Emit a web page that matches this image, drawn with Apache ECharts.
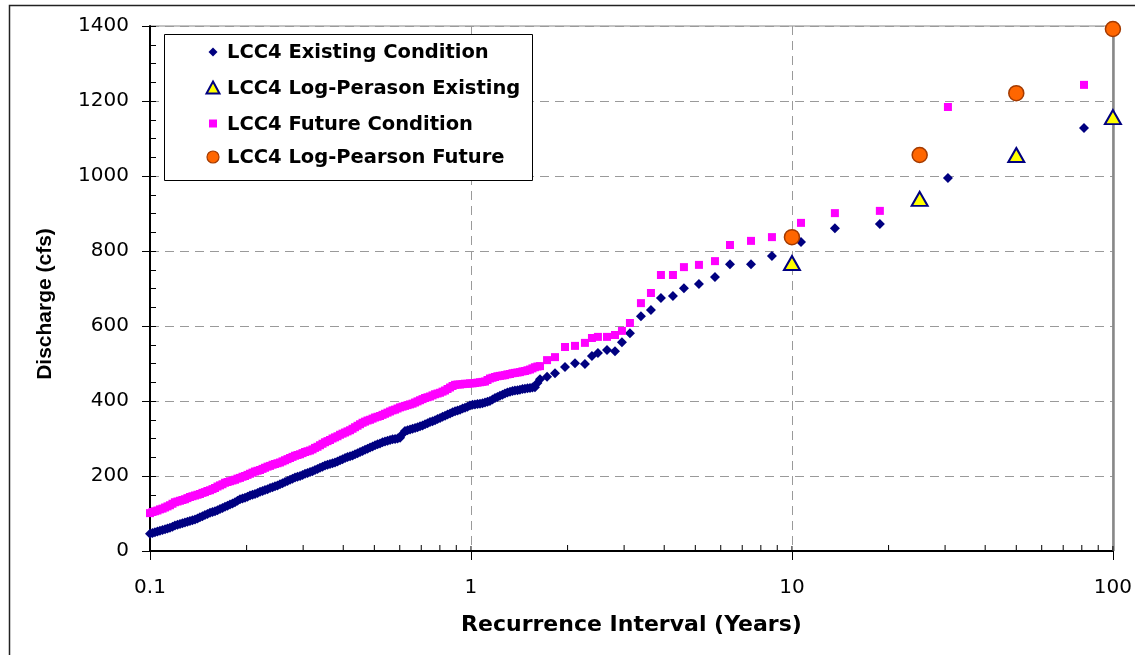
<!DOCTYPE html>
<html>
<head>
<meta charset="utf-8">
<script src="https://cdn.jsdelivr.net/npm/echarts@6/dist/echarts.min.js"></script>
<style>
  html, body { margin: 0; padding: 0; background: #fff; }
  #chart { width: 1135px; height: 655px; }
</style>
</head>
<body>
<div id="chart"></div>
<script>
// Recurrence interval (years) of each ranked event, shared by both conditions
const recurrence = [
  0.1, 0.1018, 0.1036, 0.1055, 0.1074, 0.1094, 0.1114, 0.1134, 0.1154, 0.1175,
  0.1196, 0.1218, 0.1240, 0.1262, 0.1285, 0.1308, 0.1332, 0.1356, 0.1381, 0.1406,
  0.1431, 0.1457, 0.1483, 0.1510, 0.1538, 0.1566, 0.1594, 0.1623, 0.1652, 0.1682,
  0.1713, 0.1744, 0.1775, 0.1807, 0.1840, 0.1873, 0.1907, 0.1942, 0.1977, 0.2013,
  0.2049, 0.2086, 0.2124, 0.2163, 0.2202, 0.2242, 0.2282, 0.2324, 0.2366, 0.2409,
  0.2452, 0.2496, 0.2541, 0.2587, 0.2634, 0.2682, 0.2731, 0.2780, 0.2830, 0.2881,
  0.2934, 0.2987, 0.3041, 0.3096, 0.3152, 0.3209, 0.3267, 0.3326, 0.3386, 0.3447,
  0.3510, 0.3573, 0.3638, 0.3704, 0.3771, 0.3839, 0.3909, 0.3980, 0.4052, 0.4125,
  0.4200, 0.4276, 0.4353, 0.4432, 0.4512, 0.4594, 0.4677, 0.4762, 0.4848, 0.4936,
  0.5025, 0.5116, 0.5208, 0.5302, 0.5398, 0.5496, 0.5596, 0.5697, 0.5800, 0.5905,
  0.6012, 0.6121, 0.6231, 0.6344, 0.6459, 0.6576, 0.6695, 0.6816, 0.6939, 0.7065,
  0.7193, 0.7323, 0.7455, 0.7590, 0.7728, 0.7868, 0.8010, 0.8155, 0.8303, 0.8453,
  0.8606, 0.8762, 0.8920, 0.9082, 0.9246, 0.9413, 0.9579, 0.9752, 0.9928, 1.011,
  1.029, 1.048, 1.067, 1.086, 1.106, 1.126, 1.146, 1.167, 1.188, 1.209,
  1.231, 1.253, 1.276, 1.299, 1.323, 1.347, 1.371, 1.396, 1.421, 1.447,
  1.473, 1.500, 1.527, 1.554, 1.582, 1.611,
  1.641, 1.726, 1.827, 1.963, 2.109, 2.265, 2.382, 2.486, 2.653, 2.810,
  2.954, 3.128, 3.385, 3.637, 3.907, 4.259, 4.608, 5.132, 5.757, 6.411,
  7.455, 8.664, 10.67, 13.61, 18.79, 30.62, 81.28
];

// Discharge (cfs), existing condition
const existingQ = [
  46, 48, 50, 52, 54, 56, 58, 60, 62, 65,
  68, 70, 72, 74, 76, 78, 80, 82, 84, 87,
  90, 93, 96, 99, 102, 104, 106, 109, 112, 115,
  118, 121, 124, 127, 130, 134, 138, 140, 142, 145,
  148, 150, 152, 155, 158, 160, 163, 165, 168, 170,
  173, 175, 178, 181, 184, 187, 190, 193, 196, 198,
  200, 203, 206, 208, 211, 213, 216, 219, 222, 225,
  228, 230, 232, 234, 236, 239, 242, 245, 248, 251,
  253, 255, 258, 261, 264, 267, 270, 273, 276, 279,
  282, 285, 287, 290, 292, 294, 296, 298, 299, 300,
  302, 312, 320, 322, 324, 326, 328, 330, 333, 335,
  338, 341, 344, 346, 349, 352, 355, 358, 361, 364,
  367, 370, 373, 375, 377, 380, 382, 385, 388, 390,
  391, 392, 393, 394, 396, 398, 400, 404, 408, 411,
  414, 417, 420, 423, 425, 427, 428, 429, 430, 432,
  433, 434, 435, 436, 437, 448,
  458, 465, 474, 491, 501, 499, 520, 528, 536, 533,
  557, 581, 626, 643, 675, 680, 701, 712, 731, 765,
  765, 787, 824, 861, 872, 995, 1128
];

// Discharge (cfs), future condition
const futureQ = [
  101, 104, 106, 108, 111, 113, 116, 119, 122, 126,
  130, 132, 134, 136, 138, 141, 144, 146, 148, 150,
  152, 155, 157, 160, 162, 165, 168, 172, 175, 178,
  182, 184, 186, 188, 190, 193, 195, 198, 200, 203,
  206, 209, 212, 214, 216, 219, 222, 225, 227, 230,
  232, 234, 236, 239, 242, 245, 248, 251, 254, 256,
  258, 261, 264, 266, 268, 271, 275, 278, 282, 286,
  290, 293, 296, 300, 303, 306, 310, 313, 316, 319,
  322, 326, 330, 334, 338, 342, 345, 348, 350, 353,
  356, 358, 360, 363, 366, 369, 372, 375, 377, 380,
  383, 385, 387, 389, 391, 393, 396, 399, 402, 405,
  408, 410, 412, 415, 418, 420, 422, 425, 428, 432,
  436, 440, 443, 444, 444, 445, 446, 446, 447, 447,
  448, 449, 450, 451, 452, 456, 460, 462, 464, 466,
  467, 468, 469, 471, 472, 474, 475, 476, 477, 479,
  480, 482, 484, 487, 490, 492,
  493, 509, 517, 544, 547, 555, 568, 571, 571, 576,
  587, 608, 661, 688, 736, 736, 757, 763, 773, 816,
  827, 837, 875, 901, 907, 1184, 1243
];

// Log-Pearson Type III frequency estimates
const lpReturnPeriod = [10, 25, 50, 100];
const lpExisting = [768, 939, 1056, 1157];
const lpFuture = [837, 1056, 1221, 1392];

// Axis ticks
const xMajorTicks = [0.1, 1, 10, 100];
const xMinorTicks = [
  0.2, 0.3, 0.4, 0.5, 0.6, 0.7, 0.8, 0.9,
  2, 3, 4, 5, 6, 7, 8, 9,
  20, 30, 40, 50, 60, 70, 80, 90
];

const seriesNames = [
  'LCC4 Existing Condition',
  'LCC4 Log-Perason Existing',
  'LCC4 Future Condition',
  'LCC4 Log-Pearson Future'
];

const NAVY = '#000080';
const MAGENTA = '#FF00FF';
const YELLOW = '#FFFF00';
const ORANGE = '#FF6600';
const ORANGE_EDGE = '#A33A00';
const GRID_GRAY = '#9a9a9a';
const TICK_FONT = 'DejaVu Sans';

const pair = (xs, ys) => xs.map((x, i) => [x, ys[i]]);

const chart = echarts.init(document.getElementById('chart'));

// upward tick marks on the x axis (inside the plot)
function insideTicks(len) {
  return function (params, api) {
    const p = api.coord([api.value(0), 0]);
    return {
      type: 'line',
      shape: { x1: p[0], y1: p[1], x2: p[0], y2: p[1] - len },
      style: { stroke: '#000', lineWidth: 1 }
    };
  };
}

// legend drawn as a boxed key
const legendX = 164, legendY = 34, legendW = 368, legendH = 146;
const rowY = [52, 88, 123.5, 157];
const iconX = 213;
const textX = 227;
const legendGraphics = [
  {
    type: 'rect',
    shape: { x: legendX + 0.5, y: legendY + 0.5, width: legendW, height: legendH },
    style: { fill: '#fff', stroke: '#000', lineWidth: 1 },
    z: 10
  },
  {
    type: 'polygon',
    shape: { points: [[iconX, rowY[0] - 4.5], [iconX + 4.5, rowY[0]], [iconX, rowY[0] + 4.5], [iconX - 4.5, rowY[0]]] },
    style: { fill: NAVY },
    z: 11
  },
  {
    type: 'polygon',
    shape: { points: [[iconX, rowY[1] - 6.5], [iconX + 6.5, rowY[1] + 5.5], [iconX - 6.5, rowY[1] + 5.5]] },
    style: { fill: YELLOW, stroke: NAVY, lineWidth: 2, lineJoin: 'miter' },
    z: 11
  },
  {
    type: 'rect',
    shape: { x: iconX - 4, y: rowY[2] - 4, width: 8, height: 8 },
    style: { fill: MAGENTA },
    z: 11
  },
  {
    type: 'circle',
    shape: { cx: iconX, cy: rowY[3], r: 6 },
    style: { fill: ORANGE, stroke: ORANGE_EDGE, lineWidth: 1.2 },
    z: 11
  }
].concat(seriesNames.map((name, i) => ({
  type: 'text',
  x: textX,
  y: rowY[i] + 1,
  style: {
    text: name,
    fill: '#000',
    fontFamily: TICK_FONT,
    fontWeight: 'bold',
    fontSize: 19.5,
    align: 'left',
    verticalAlign: 'middle'
  },
  z: 11
})));

const option = {
  backgroundColor: '#fff',
  animation: false,
  grid: {
    left: 150, right: 22, top: 26, bottom: 104,
    show: true,
    borderColor: '#888',
    borderWidth: 1,
    backgroundColor: 'transparent'
  },
  xAxis: [{
    type: 'log',
    logBase: 10,
    min: 0.1,
    max: 100,
    axisLine: { show: true, onZero: false, lineStyle: { color: '#000', width: 2 } },
    axisTick: { show: true, inside: false, length: 9, lineStyle: { color: '#000', width: 1 } },
    axisLabel: {
      margin: 27,
      color: '#000',
      fontFamily: TICK_FONT,
      fontSize: 20,
      formatter: v => String(v)
    },
    splitLine: { show: true, lineStyle: { color: GRID_GRAY, type: [9, 6], width: 1 } },
    name: 'Recurrence Interval (Years)',
    nameLocation: 'middle',
    nameGap: 63,
    nameTextStyle: {
      color: '#000',
      fontFamily: TICK_FONT,
      fontWeight: 'bold',
      fontSize: 22,
      verticalAlign: 'top'
    }
  }],
  yAxis: [{
    type: 'value',
    min: 0,
    max: 1400,
    interval: 200,
    position: 'left',
    axisLine: { show: true, onZero: false, lineStyle: { color: '#000', width: 2 } },
    axisTick: { show: true, inside: false, length: 8, lineStyle: { color: '#000', width: 1 } },
    axisLabel: {
      margin: 21,
      color: '#000',
      fontFamily: TICK_FONT,
      fontSize: 20,
      formatter: v => String(v)
    },
    splitLine: { show: true, lineStyle: { color: GRID_GRAY, type: [9, 6], width: 1 } }
  }, {
    type: 'value',
    min: 0,
    max: 1400,
    interval: 200,
    position: 'left',
    offset: 0,
    axisLine: { show: false },
    axisTick: { show: true, inside: true, length: 6, lineStyle: { color: '#000', width: 1 } },
    minorTick: { show: true, splitNumber: 4, length: 6, lineStyle: { color: '#000', width: 1 } },
    axisLabel: { show: false },
    splitLine: { show: false }
  }],
  graphic: [
    {
      type: 'rect',
      shape: { x: 9.5, y: 5.5, width: 1200, height: 700 },
      style: { fill: 'none', stroke: '#222', lineWidth: 1.5 },
      silent: true,
      z: 0
    },
    {
      type: 'text',
      x: 45,
      y: 304,
      rotation: Math.PI / 2,
      style: {
        text: 'Discharge (cfs)',
        fill: '#000',
        fontFamily: 'Liberation Sans',
        fontWeight: 'bold',
        fontSize: 21,
        align: 'center',
        verticalAlign: 'middle'
      }
    }
  ].concat(legendGraphics),
  series: [
    {
      name: seriesNames[0],
      type: 'scatter',
      symbol: 'diamond',
      symbolSize: [10, 10],
      itemStyle: { color: NAVY, opacity: 1 },
      data: pair(recurrence, existingQ),
      clip: false,
      z: 3,
      markLine: {
        silent: true,
        symbol: 'none',
        label: { show: false },
        lineStyle: { color: '#888', type: 'solid', width: 2.5 },
        data: [{ xAxis: 100 }],
        z: 1
      }
    },
    {
      name: seriesNames[1],
      type: 'scatter',
      symbol: 'triangle',
      symbolSize: [16, 14],
      itemStyle: { color: YELLOW, borderColor: NAVY, borderWidth: 2, opacity: 1 },
      data: pair(lpReturnPeriod, lpExisting),
      clip: false,
      z: 4
    },
    {
      name: seriesNames[2],
      type: 'scatter',
      symbol: 'rect',
      symbolSize: 8,
      itemStyle: { color: MAGENTA, opacity: 1 },
      data: pair(recurrence, futureQ),
      clip: false,
      z: 5
    },
    {
      name: seriesNames[3],
      type: 'scatter',
      symbol: 'circle',
      symbolSize: 15,
      itemStyle: { color: ORANGE, borderColor: ORANGE_EDGE, borderWidth: 1.5, opacity: 1 },
      data: pair(lpReturnPeriod, lpFuture),
      clip: false,
      z: 6
    },
    {
      type: 'custom',
      silent: true,
      clip: false,
      z: 7,
      renderItem: insideTicks(6),
      data: xMinorTicks.map(v => [v])
    },
    {
      type: 'custom',
      silent: true,
      clip: false,
      z: 7,
      renderItem: insideTicks(5),
      data: xMajorTicks.map(v => [v])
    }
  ]
};

chart.setOption(option);
</script>
</body>
</html>
